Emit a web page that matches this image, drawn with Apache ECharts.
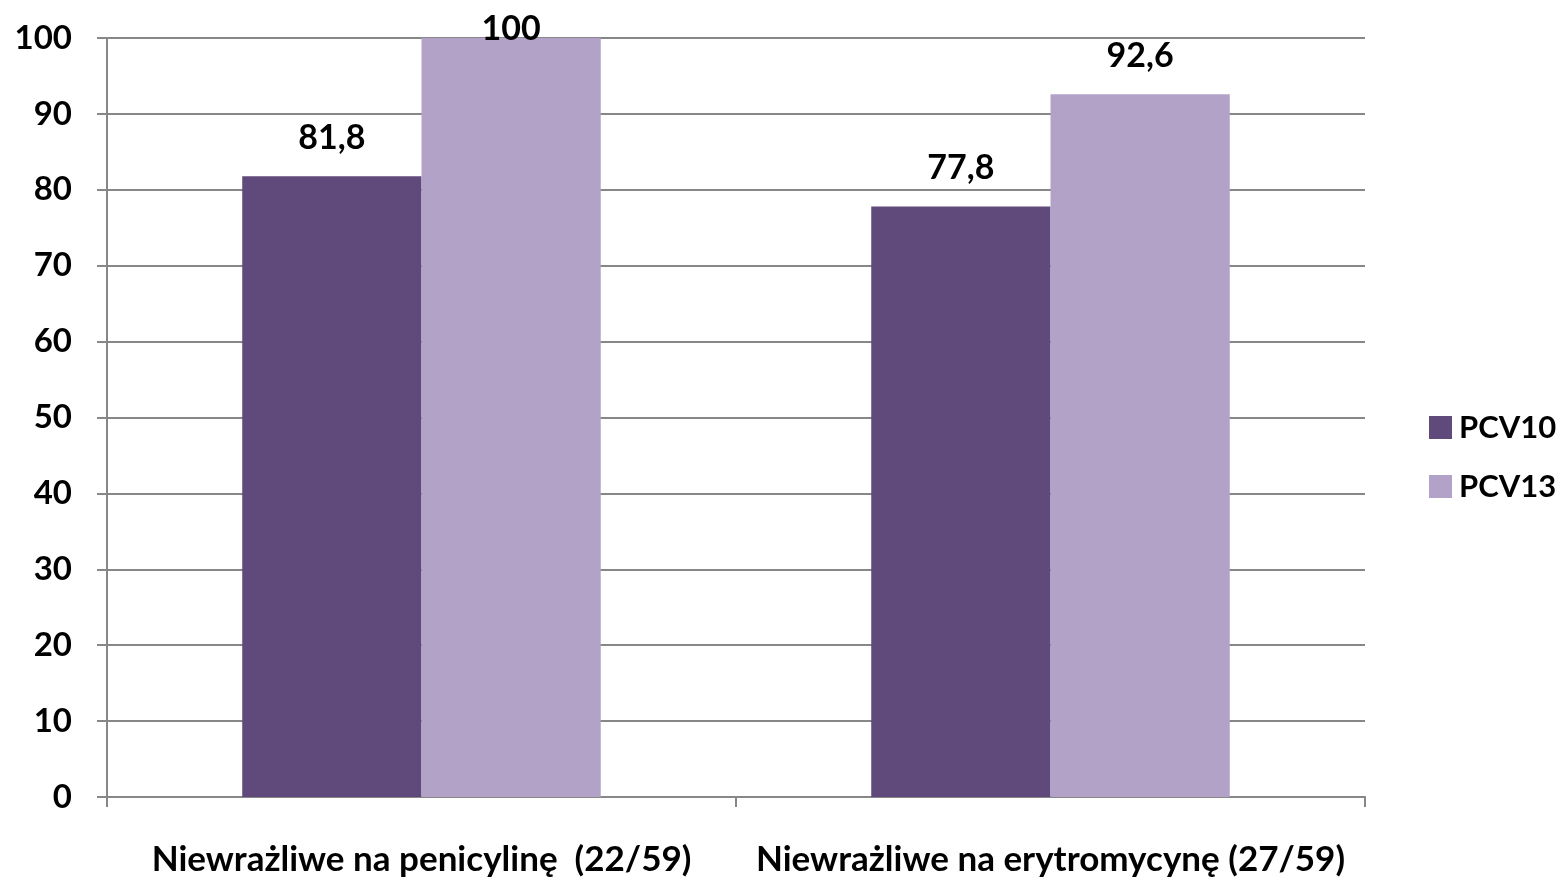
<!DOCTYPE html>
<html>
<head>
<meta charset="utf-8">
<script src="https://cdn.jsdelivr.net/npm/echarts@6/dist/echarts.min.js"></script>
<style>
  html, body { margin: 0; padding: 0; background: #fff; }
  #chart { width: 1563px; height: 879px; }
</style>
</head>
<body>
<div id="chart"></div>
<script>
// kategorie i wartości (%)
var categories = ['Niewrażliwe na penicylinę  (22/59)', 'Niewrażliwe na erytromycynę (27/59)'];
var pcv10 = [81.8, 77.8];
var pcv13 = [100, 92.6];
var yTicks = [0, 10, 20, 30, 40, 50, 60, 70, 80, 90, 100];

var FONT = 'Lato, "Open Sans", sans-serif';
var GRAY = '#878787';

function fmt(p) {
  return String(p.value).replace('.', ',');
}
// etykieta dla 100 nie mieści się nad słupkiem
function toData(arr) {
  return arr.map(function (v) {
    if (v >= yTicks[yTicks.length - 1]) {
      return { value: v, label: { distance: -8 } };
    }
    return v;
  });
}

var chart = echarts.init(document.getElementById('chart'));
chart.setOption({
  animation: false,
  textStyle: { fontFamily: FONT },
  grid: { left: 107, right: 198, top: 38, bottom: 82 },
  legend: {
    orient: 'vertical',
    left: 1424,
    top: 407,
    itemWidth: 23,
    itemHeight: 23,
    itemGap: 28,
    icon: 'rect',
    textStyle: { fontFamily: FONT, fontWeight: 'bold', fontSize: 31, color: '#000', padding: [0, 0, 0, 2] },
    data: ['PCV10', 'PCV13']
  },
  xAxis: {
    type: 'category',
    data: categories,
    axisLine: { lineStyle: { color: GRAY, width: 2 } },
    axisTick: { show: true, length: 10, lineStyle: { color: GRAY, width: 2 } },
    axisLabel: { margin: 45, fontFamily: FONT, fontWeight: 'bold', fontSize: 35, color: '#000', interval: 0 }
  },
  yAxis: {
    type: 'value',
    min: yTicks[0],
    max: yTicks[yTicks.length - 1],
    interval: 10,
    axisLine: { show: true, lineStyle: { color: GRAY, width: 2 } },
    axisTick: { show: true, length: 10, lineStyle: { color: GRAY, width: 2 } },
    splitLine: { lineStyle: { color: GRAY, width: 2 } },
    axisLabel: { margin: 35, fontFamily: FONT, fontWeight: 'bold', fontSize: 33, color: '#000' }
  },
  series: [
    {
      name: 'PCV10',
      type: 'bar',
      data: toData(pcv10),
      barGap: '0%',
      barCategoryGap: '43%',
      itemStyle: { color: '#604a7b' },
      label: { show: true, position: 'top', distance: 21, formatter: fmt, fontFamily: FONT, fontWeight: 'bold', fontSize: 34, color: '#000' }
    },
    {
      name: 'PCV13',
      type: 'bar',
      data: toData(pcv13),
      barGap: '0%',
      barCategoryGap: '43%',
      itemStyle: { color: '#b3a2c7' },
      label: { show: true, position: 'top', distance: 21, formatter: fmt, fontFamily: FONT, fontWeight: 'bold', fontSize: 34, color: '#000' }
    }
  ]
});
</script>
</body>
</html>
